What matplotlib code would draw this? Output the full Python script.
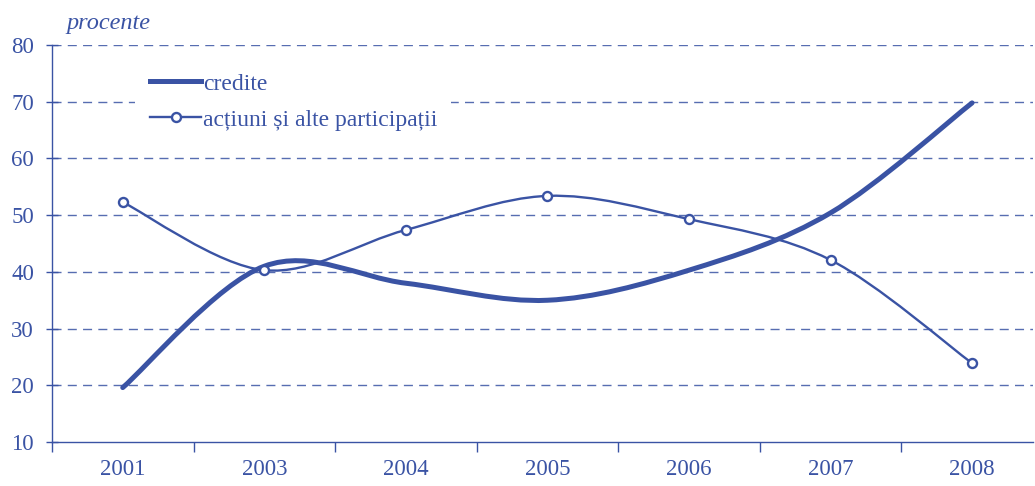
import matplotlib
matplotlib.use("Agg")
import matplotlib.pyplot as plt
import numpy as np
from matplotlib.path import Path
from matplotlib.patches import PathPatch
from matplotlib.lines import Line2D

years = ["2001", "2003", "2004", "2005", "2006", "2007", "2008"]
credite = [19.6, 41.0, 38.0, 35.0, 40.3, 50.4, 69.8]
actiuni = [52.3, 40.3, 47.4, 53.4, 49.3, 42.1, 23.9]
yticks = [10, 20, 30, 40, 50, 60, 70, 80]

BLUE = "#3a53a4"
plt.rcParams["font.family"] = ["Liberation Serif", "DejaVu Serif"]

def smooth_path(xs, ys):
    pts = np.column_stack([xs, ys]).astype(float)
    n = len(pts)
    verts = [pts[0]]
    codes = [Path.MOVETO]
    for i in range(n - 1):
        p0 = pts[i - 1] if i > 0 else pts[i]
        p1 = pts[i]
        p2 = pts[i + 1]
        p3 = pts[i + 2] if i + 2 < n else pts[i + 1]
        c1 = p1 + (p2 - p0) / 6.0
        c2 = p2 - (p3 - p1) / 6.0
        verts += [c1, c2, p2]
        codes += [Path.CURVE4] * 3
    return Path(verts, codes)

fig = plt.figure(figsize=(10.35, 4.86), dpi=100)
ax = fig.add_axes([0.0502, 0.0905, 0.9478, 0.8168])
x = np.arange(len(years))

ax.add_patch(PathPatch(smooth_path(x, credite), fill=False, edgecolor=BLUE,
                       lw=3.6, capstyle="round", zorder=3))
ax.add_patch(PathPatch(smooth_path(x, actiuni), fill=False, edgecolor=BLUE,
                       lw=1.7, zorder=3))
ax.plot(x, actiuni, ls="none", marker="o", ms=6.5, mfc="white", mec=BLUE,
        mew=1.7, zorder=4)

ax.set_xlim(-0.5, 6.43)
ax.set_ylim(10, 80)
ax.set_yticks(yticks)
ax.set_xticks(x)
ax.set_xticklabels(years)
ax.set_xticks(np.arange(-0.5, 6.5, 1.0), minor=True)
ax.tick_params(axis="x", which="major", length=0, pad=12, labelsize=16.5, labelcolor=BLUE)
ax.tick_params(axis="x", which="minor", length=7, direction="out", color=BLUE, width=1)
ax.tick_params(axis="y", length=8, direction="inout", color=BLUE, width=1,
               labelsize=16.5, labelcolor=BLUE, pad=9)
for g in yticks[1:]:
    ax.axhline(g, color=BLUE, lw=1, ls=(0, (6.5, 4.5)), alpha=0.85, zorder=1)
for s in ["top", "right"]:
    ax.spines[s].set_visible(False)
for s in ["left", "bottom"]:
    ax.spines[s].set_color(BLUE)
    ax.spines[s].set_linewidth(1)

handles = [Line2D([], [], color=BLUE, lw=3.6),
           Line2D([], [], color=BLUE, lw=1.7, marker="o", ms=6.5, mfc="white",
                  mec=BLUE, mew=1.7)]
leg = ax.legend(handles, ["credite", "acțiuni și alte participații"],
                loc="upper left", bbox_to_anchor=(0.073, 0.995), frameon=True,
                fontsize=17, handlelength=2.2, handletextpad=0.05,
                labelspacing=0.62, borderpad=0.6, labelcolor=BLUE)
leg.get_frame().set_facecolor("white")
leg.get_frame().set_edgecolor("none")
leg.get_frame().set_alpha(1)
leg.set_zorder(5)

fig.text(0.064, 0.94, "procente", fontsize=17.5, style="italic", color=BLUE)

fig.savefig("out.png", dpi=100)
